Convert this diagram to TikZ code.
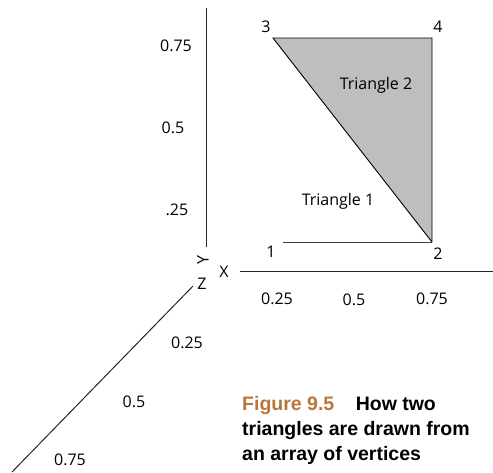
\documentclass[tikz,border=0pt]{standalone}
\usepackage{fontspec}
\setmainfont{Open Sans}
\newfontfamily\capfont{Liberation Sans}
\usepackage{xcolor}
\usetikzlibrary{positioning}
\definecolor{mygray}{HTML}{BCBEC0}
\definecolor{myorange}{HTML}{B8773A}
\tikzstyle{axis} = [line width=1pt, draw=black!85]
\tikzstyle{tick} = [font=\fontsize{16}{18}\selectfont, inner sep=0pt]
\tikzstyle{vert} = [font=\fontsize{16}{18}\selectfont, inner sep=0pt]
\tikzstyle{edge} = [line width=0.9pt]

\begin{document}
\begin{tikzpicture}[x=1pt, y=-1pt]
    \useasboundingbox (0,0) rectangle (493,472);
    % axes
    \coordinate (ytop) at (206,8);
    \coordinate (ybot) at (206,247);
    \coordinate (xleft) at (240,271);
    \coordinate (xright) at (493,271);
    \coordinate (ztop) at (193,286);
    \coordinate (zbot) at (12,472);
    \draw [axis] (ytop) -- (ybot);
    \draw [axis] (xleft) -- (xright);
    \draw [axis] (ztop) -- (zbot);
    \node (ylab) [tick, rotate=90] at (203,260) {Y};
    \node (xlab) [tick] at (224,272) {X};
    \node (zlab) [tick] at (202,284) {Z};
    % tick labels
    \node (y3) [tick] at (176,46) {0.75};
    \node (y2) [tick] at (173,128) {0.5};
    \node (y1) [tick] at (177,210) {.25};
    \node (x1) [tick] at (277,299) {0.25};
    \node (x2) [tick] at (354,300) {0.5};
    \node (x3) [tick] at (432,299) {0.75};
    \node (z1) [tick] at (187,343) {0.25};
    \node (z2) [tick] at (134,402) {0.5};
    \node (z3) [tick] at (70,460) {0.75};
    % vertices
    \coordinate (v1) at (283,242);
    \coordinate (v2) at (432,242);
    \coordinate (v3) at (273,38);
    \coordinate (v4) at (432,38);
    \fill [mygray] (v3) -- (v4) -- (v2) -- cycle;
    \draw [edge] (v2) -- (v3) -- (v4) -- (v2);
    \draw [edge, draw=black!75] (v1) -- (v2);
    \node (n1) [vert] at (271,252) {1};
    \node (n2) [vert] at (438,254) {2};
    \node (n3) [vert] at (266,27) {3};
    \node (n4) [vert] at (438,27) {4};
    \node (t2) [vert] at (376,85) {Triangle 2};
    \node (t1) [vert] at (338,201) {Triangle 1};
    % caption
    \node (cap) [anchor=north west, align=left, inner sep=0pt,
        font=\capfont\bfseries\fontsize{19.5}{25}\selectfont] at (242,396)
        {\textcolor{myorange}{Figure 9.5}\hspace{1.1em}How two\\
         triangles are drawn from\\
         an array of vertices};
\end{tikzpicture}
\end{document}
